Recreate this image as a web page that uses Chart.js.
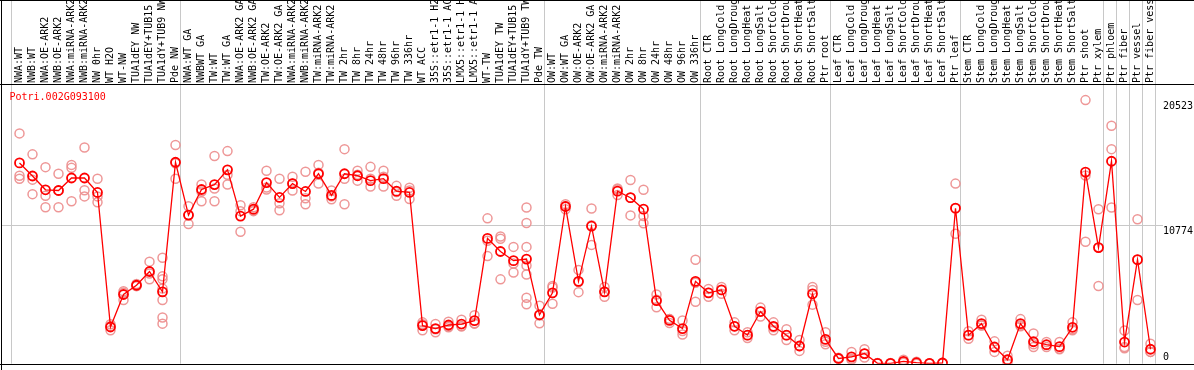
<!DOCTYPE html>
<html><head><meta charset="utf-8">
<script src="https://cdn.jsdelivr.net/npm/chart.js@4/dist/chart.umd.min.js"></script>
<style>html,body{margin:0;padding:0;background:#fff;overflow:hidden;} #wrap{width:1194px;height:370px;position:relative;}</style>
</head><body><div id="wrap"><canvas id="c" width="1194" height="370"></canvas></div>
<script>
const geneId = "Potri.002G093100";

const categories = [
 "NWA:WT","NWB:WT","NWA:OE-ARK2","NWB:OE-ARK2","NWA:miRNA-ARK2","NWB:miRNA-ARK2","NW 0hr","WT H2O","WT-NW","TUA1dEY NW","TUA1dEY+TUB15 NW","TUA1dY+TUB9 NW","Pde NW",
 "NWA:WT GA","NWBWT GA","TW:WT","TW:WT GA","NWA:OE-ARK2 GA","NWB:OE-ARK2 GA","TW:OE-ARK2","TW:OE-ARK2 GA","NWA:miRNA-ARK2","NWB:miRNA-ARK2","TW:miRNA-ARK2","TW:miRNA-ARK2","TW 2hr","TW 8hr","TW 24hr","TW 48hr","TW 96hr","TW 336hr","WT ACC","35S::etr1-1 H2O","35S::etr1-1 ACC","LMX5::etr1-1 H2O","LMX5::etr1-1 ACC","WT-TW","TUA1dEY TW","TUA1dEY+TUB15 TW","TUA1dY+TUB9 TW","Pde TW",
 "OW:WT","OW:WT GA","OW:OE-ARK2","OW:OE-ARK2 GA","OW:miRNA-ARK2","OW:miRNA-ARK2","OW 2hr","OW 8hr","OW 24hr","OW 48hr","OW 96hr","OW 336hr",
 "Root CTR","Root LongCold","Root LongDrought","Root LongHeat","Root LongSalt","Root ShortCold","Root ShortDrought","Root ShortHeat","Root ShortSalt","Ptr root",
 "Leaf CTR","Leaf LongCold","Leaf LongDrought","Leaf LongHeat","Leaf LongSalt","Leaf ShortCold","Leaf ShortDrought","Leaf ShortHeat","Leaf ShortSalt","Ptr leaf",
 "Stem CTR","Stem LongCold","Stem LongDrought","Stem LongHeat","Stem LongSalt","Stem ShortCold","Stem ShortDrought","Stem ShortHeat","Stem ShortSalt","Ptr shoot","Ptr xylem","Ptr phloem","Ptr fiber","Ptr vessel","Ptr fiber vessel"
];

const meanValues = [
 15633,14613,13541,13487,14460,14460,13334,2858,5387,6107,7180,5594,15686,
 11571,13564,13947,15096,11495,12031,14100,12950,14023,13410,14790,13104,14790,14636,14253,14406,13433,13334,2966,2736,3012,3088,3349,9755,8736,8023,8146,3809,
 5517,12238,6414,10705,5594,13433,12927,12031,4904,3372,2736,6414,
 5517,5747,2912,2222,4061,2912,2222,1379,5441,1893,
 406,536,789,30,25,176,77,20,54,12108,
 2222,3119,1303,307,3119,1709,1479,1326,2835,14920,9042,15763,1686,8100,1126
];

const replicateValues = [
 [17931,14636,14406],[16299,14330,13203],[15303,13081,12184],[14790,13487,12184],[15479,15249,12644],[16836,13510,13027],[14406,13027,12567],
 [3065,2912,2605],[5648,5517,4958],[6207,6054,6054],[7947,7019,6567],[8253,6800,6567,5847,4958,3602,3119],[17035,15610,14406],
 [12261,11571,10881],[13947,13410,12644],[16169,13640,12644],[16552,14713,13947],[12337,11878,10268],[12184,11954,11878],[15019,13717,13564],
 [14406,12491,11954],[14560,14023,13487],[14943,12874,12414],[15479,14866,14023],[13487,13027,12797],[16705,14406,12414],[15019,14713,14253],
 [15326,14406,13793],[15019,14560,13793],[13847,13372,13081],[13694,13487,12820],[3218,3065,2605],[3088,2682,2452],[3272,2912,2835],
 [3425,2912,2912],[3778,3142,3119],[11318,9579,8376],[9908,9732,6567],[9096,7793,7104],[12161,10958,9096,7640,6950,5134,4621],[4521,3755,3142],
 [6054,5924,4674],[12414,12261,12031],[7303,6360,5571],[12085,10774,9249],[5977,5594,5211],[13640,13564,13127],[14307,12920,11548],
 [13541,11495,10935],[5387,4981,4391],[3471,3471,3165],[3372,2552,2276],[8100,6307,4828],
 [5824,5517,5211],[5977,5747,5441],[3218,2912,2605],[2452,2222,1992],[4368,4061,3678],[3218,2835,2605],[2682,2222,1839],[1839,1379,996],
 [5977,5747,4598],[2452,1709,1510],
 [460,383,383],[920,383,307],[1126,766,483],[50,30,10],[55,20,0],[307,153,77],[153,77,0],[40,20,0],[80,54,30],[14023,12108,10115],
 [2529,2222,1939],[3425,2989,2966],[1740,1249,920],[613,307,0],[3471,2989,2912],[2353,1510,1303],[1686,1456,1303],[1686,1172,1126],
 [3218,2682,2605],[20523,14659,9502],[12031,9042,6054],[18521,16705,12161],[2582,1303,1203],[11242,8092,4958],[1556,920,920]
];

const yTickValues = [0, 10774, 20523];
const yMax = 21700;
// category index where each group starts (vertical separators)
const groupStarts = [0, 13, 41, 53, 63, 73, 84, 85, 86, 87, 88];

const FONT = "'DejaVu Sans Mono', monospace";
const maxReps = Math.max(...replicateValues.map(r => r.length));
const repDatasets = [];
for (let k = 0; k < maxReps; k++) {
  repDatasets.push({
    label: 'rep' + (k + 1),
    data: replicateValues.map(r => (k < r.length ? r[k] : null)),
    showLine: false,
    pointRadius: 4.5,
    pointBorderWidth: 1.5,
    pointBorderColor: 'rgba(236,140,140,0.9)',
    pointBackgroundColor: 'rgba(0,0,0,0)',
    order: 2
  });
}

const decor = {
  id: 'decor',
  beforeDatasetsDraw(chart) {
    const ctx = chart.ctx, xs = chart.scales.x, ys = chart.scales.y, ca = chart.chartArea;
    const step = xs.getPixelForValue(1) - xs.getPixelForValue(0);
    ctx.save();
    ctx.fillStyle = '#c8c8c8';
    groupStarts.forEach(b => {
      const x = Math.round(xs.getPixelForValue(0) + step * b - step * 0.62);
      ctx.fillRect(x, 0, 1, ca.bottom);
    });
    const yg = Math.round(ys.getPixelForValue(yTickValues[1]));
    ctx.fillRect(2, yg, 1161, 1);
    ctx.restore();
  },
  afterDraw(chart) {
    const ctx = chart.ctx, ys = chart.scales.y, ca = chart.chartArea;
    ctx.save();
    ctx.fillStyle = '#000';
    ctx.fillRect(0, 0, 1194, 1);
    ctx.fillRect(1, 0, 1, 370);
    ctx.fillRect(0, 84, 1194, 1);
    ctx.fillRect(0, Math.round(ca.bottom), 1194, 1);
    // y tick labels
    ctx.font = '10px ' + FONT;
    ctx.textAlign = 'left';
    yTickValues.forEach(v => {
      const y = ys.getPixelForValue(v);
      if (v === 0) { ctx.textBaseline = 'bottom'; ctx.fillText(String(v), ca.right + 6, y - 1); }
      else { ctx.textBaseline = 'top'; ctx.fillText(String(v), ca.right + 6, y + 1); }
    });
    // gene id
    ctx.fillStyle = '#ff0000';
    ctx.textBaseline = 'middle';
    ctx.fillText(geneId, ca.left - 3.5, ca.top + 12);
    ctx.restore();
  }
};

new Chart(document.getElementById('c'), {
  type: 'line',
  data: {
    labels: categories,
    datasets: [{
      label: 'mean',
      data: meanValues,
      borderColor: '#ff0000',
      borderWidth: 1.3,
      pointRadius: 4.5,
      pointBorderWidth: 1.8,
      pointBorderColor: '#ff0000',
      pointBackgroundColor: 'rgba(0,0,0,0)',
      tension: 0,
      order: 1
    }].concat(repDatasets)
  },
  options: {
    responsive: false,
    animation: false,
    devicePixelRatio: 1,
    layout: { padding: { left: 13, right: 0, top: 0, bottom: 2 } },
    plugins: { legend: { display: false }, tooltip: { enabled: false }, title: { display: false } },
    scales: {
      x: {
        type: 'category', position: 'top', offset: true,
        grid: { display: false, drawTicks: false }, border: { display: false },
        ticks: { autoSkip: false, minRotation: 90, maxRotation: 90, padding: 2, labelOffset: 12, color: '#000', font: { family: FONT, size: 10 } },
        afterFit(s) { s.height = 85; }
      },
      y: {
        position: 'right', min: 0, max: yMax,
        grid: { display: false, drawTicks: false }, border: { display: false },
        ticks: { display: false },
        afterFit(s) { s.width = 37; }
      }
    }
  },
  plugins: [decor]
});
</script>
</body></html>
